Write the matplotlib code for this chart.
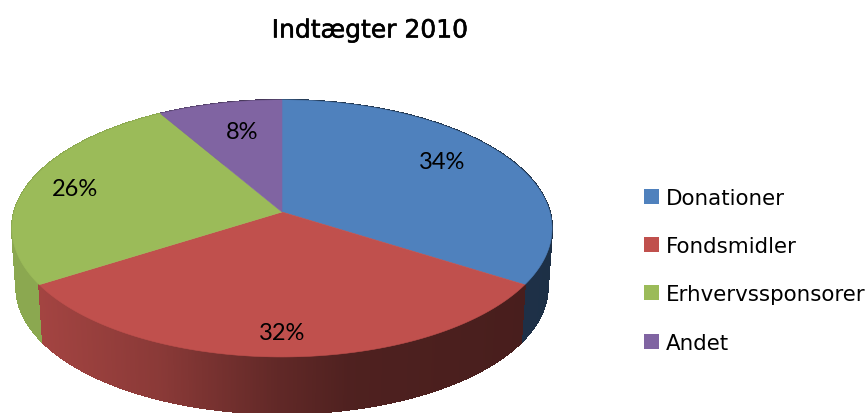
#!/usr/bin/env python3
# -*- coding: utf-8 -*-
"""
Indtaegter 2010 - 3D-lagkage, tegnet som polygoner i pixelkoordinater
"""
import numpy as np
import matplotlib
matplotlib.use('Agg')
import matplotlib.pyplot as plt
from matplotlib.patches import Patch
import matplotlib.patheffects as pe

categories = ['Donationer', 'Fondsmidler', 'Erhvervssponsorer', 'Andet']
shares = [34, 32, 25.6, 8.4]
colors = ['#4F81BD', '#C0504D', '#9BBB59', '#8064A2']

# perspektiv
CX, CY = 282, 213
A, B, K = 267.8, 126.4, 0.128
DEPTH = 59
BOTTOM_SCALE = 0.984
SHADE_X = [10, 40, 160, 282, 350, 500, 560]
SHADE_V = [0.90, 0.85, 0.72, 0.50, 0.41, 0.38, 0.37]

# label-placering (pixels)
LABEL_POS = [(442, 163), (282, 334), (75, 190), (242, 133)]


def project(t):
    """vinkel (med uret fra top) -> pixel paa topfladen"""
    u, v = np.sin(t), -np.cos(t)
    w = 1 - K * v
    return CX + A * u / w, CY + B * v / w


def project_bottom(t):
    x, y = project(t)
    return CX + (x - CX) * BOTTOM_SCALE, CY + (y - CY) * BOTTOM_SCALE + DEPTH


def shade(color, x):
    rgb = np.array(matplotlib.colors.to_rgb(color))
    return tuple(rgb * np.interp(x, SHADE_X, SHADE_V))


fig = plt.figure(figsize=(8.68, 4.14), dpi=100)
ax = fig.add_axes([0, 0, 1, 1])
ax.set_xlim(0, 868)
ax.set_ylim(414, 0)
ax.axis('off')

edges = np.cumsum([0] + shares) / sum(shares) * 2 * np.pi

# sidefladen: smalle strimler, bagerst foerst
strips = []
for i, color in enumerate(colors):
    ts = np.linspace(edges[i], edges[i + 1], int(shares[i] * 12) + 2)
    for t0, t1 in zip(ts[:-1], ts[1:]):
        strips.append((project((t0 + t1) / 2)[1], t0, t1, color))
strips.sort(key=lambda s: s[0])
for _, t0, t1, color in strips:
    x0, y0 = project(t0)
    x1, y1 = project(t1)
    x2, y2 = project_bottom(t1)
    x3, y3 = project_bottom(t0)
    c = shade(color, (x0 + x1) / 2)
    if color == colors[2]:
        c = shade(color, 10)  # groen side er naesten ensfarvet
    ax.fill([x0, x1, x2, x3], [y0, y1, y2, y3], facecolor=c, edgecolor=c, lw=0.8,
            antialiased=False, zorder=1)

# topfladen
for i, color in enumerate(colors):
    ts = np.linspace(edges[i], edges[i + 1], 200)
    xs, ys = project(ts)
    ax.fill(np.r_[CX, xs], np.r_[CY, ys], color=color, lw=0.4, zorder=2)

for share, (x, y) in zip(shares, LABEL_POS):
    ax.text(x, y, f'{round(share)}%', ha='center', va='center', fontsize=17,
            family='Lato', color='black', zorder=3)

ax.text(370, 31.5, 'Indtægter 2010', ha='center', va='center', fontsize=18,
        family='DejaVu Sans', color='black',
        path_effects=[pe.withStroke(linewidth=0.4, foreground='black')])

handles = [Patch(facecolor=c, label=n) for c, n in zip(colors, categories)]
leg = ax.legend(handles=handles, loc='upper left', bbox_to_anchor=(644 / 868, 1 - 189 / 414),
                frameon=False, fontsize=15.4, handlelength=0.7, handleheight=0.7,
                handletextpad=0.33, labelspacing=1.32, borderpad=0, borderaxespad=0)

fig.savefig('out.png', dpi=100, facecolor='white')
